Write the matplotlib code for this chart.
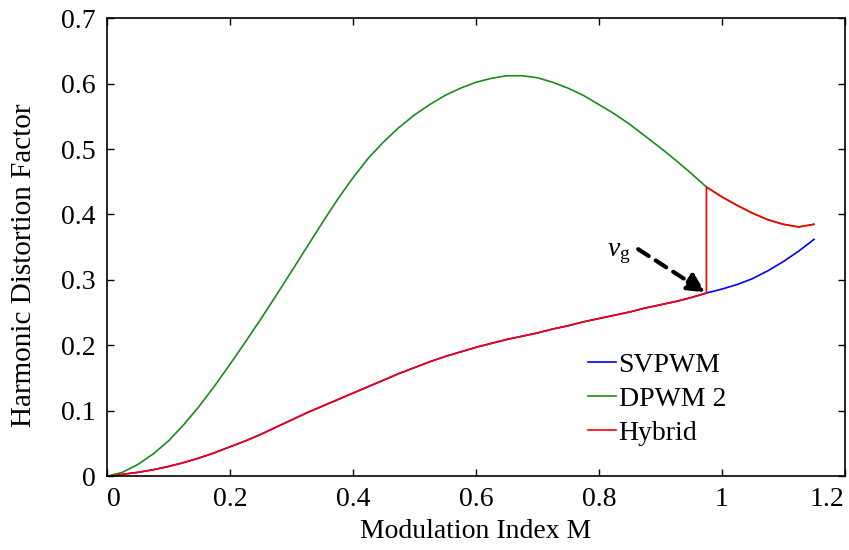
import matplotlib
matplotlib.use("Agg")
import matplotlib.pyplot as plt

plt.rcParams['font.family'] = ['Liberation Serif', 'DejaVu Serif']
plt.rcParams['mathtext.fontset'] = 'custom'
plt.rcParams['mathtext.rm'] = 'Liberation Serif'
plt.rcParams['mathtext.it'] = 'Liberation Serif:italic'

# modulation index grid
m = [0, 0.025, 0.05, 0.075, 0.1, 0.125, 0.15, 0.175, 0.2, 0.225, 0.25, 0.275,
     0.3, 0.325, 0.35, 0.375, 0.4, 0.425, 0.45, 0.475, 0.5, 0.525, 0.55,
     0.575, 0.6, 0.625, 0.65, 0.675, 0.7, 0.725, 0.75, 0.775, 0.8, 0.825,
     0.85, 0.875, 0.9, 0.925, 0.95, 0.975, 1.0, 1.025, 1.05, 1.075, 1.1,
     1.125, 1.15]
svpwm = [0, 0.003, 0.006, 0.010, 0.015, 0.021, 0.028, 0.036, 0.045, 0.054,
         0.064, 0.075, 0.086, 0.097, 0.107, 0.117, 0.127, 0.137, 0.147,
         0.157, 0.166, 0.175, 0.183, 0.190, 0.197, 0.203, 0.209, 0.214,
         0.219, 0.225, 0.230, 0.236, 0.241, 0.246, 0.251, 0.257, 0.262,
         0.267, 0.273, 0.280, 0.286, 0.293, 0.302, 0.314, 0.328, 0.344, 0.362]
dpwm2 = [0, 0.006, 0.018, 0.034, 0.054, 0.079, 0.107, 0.138, 0.171, 0.205,
         0.240, 0.276, 0.313, 0.350, 0.387, 0.423, 0.456, 0.486, 0.511,
         0.533, 0.552, 0.568, 0.582, 0.593, 0.602, 0.608, 0.612, 0.612,
         0.609, 0.602, 0.593, 0.582, 0.568, 0.554, 0.538, 0.520, 0.502,
         0.483, 0.463, 0.442, 0.427, 0.414, 0.402, 0.392, 0.385, 0.381, 0.385]

# hybrid: svpwm below switch point, dpwm2 above
m_switch = 0.975
hyb_m = [x for x in m if x <= m_switch] + [x for x in m if x >= m_switch]
hyb_v = [v for x, v in zip(m, svpwm) if x <= m_switch] + \
        [v for x, v in zip(m, dpwm2) if x >= m_switch]

fig = plt.figure(figsize=(8.49, 5.5), dpi=100)
ax = fig.add_axes([0.126, 0.134, 0.869, 0.833])

ax.plot(m, svpwm, color='#0000ff', lw=1.2, label='SVPWM')
ax.plot(m, dpwm2, color='#1a8c1a', lw=1.2, label='DPWM 2')
ax.plot(hyb_m, hyb_v, color='#ff0000', lw=1.2, label='Hybrid')

ax.annotate('', xy=(0.973, 0.281), xytext=(0.864, 0.347),
            arrowprops=dict(arrowstyle='-|>', linestyle=(0, (3, 2)), lw=3,
                            color='k', mutation_scale=28, shrinkA=0, shrinkB=0))
ax.text(0.813, 0.337, r'$v_{\mathrm{g}}$', fontsize=20)

ax.set_xlim(0, 1.2)
ax.set_ylim(0, 0.7)
ax.set_xticks([0, 0.2, 0.4, 0.6, 0.8, 1.0, 1.2])
ax.set_xticklabels(['0', '0.2', '0.4', '0.6', '0.8', '1', '1.2'])
ax.set_yticks([0, 0.1, 0.2, 0.3, 0.4, 0.5, 0.6, 0.7])
ax.set_yticklabels(['0', '0.1', '0.2', '0.3', '0.4', '0.5', '0.6', '0.7'])
ax.tick_params(direction='in', top=True, right=True, length=5, width=1,
               labelsize=20, pad=8)
xl = ax.get_xticklabels()
xl[0].set_horizontalalignment('left')
xl[-1].set_horizontalalignment('right')
for s in ax.spines.values():
    s.set_linewidth(1.2)

ax.set_xlabel('Modulation Index M', fontsize=20, labelpad=5)
ax.set_ylabel('Harmonic Distortion Factor', fontsize=21, labelpad=14)
ax.yaxis.set_label_coords(-0.095, 0.46)

ax.legend(loc='upper left', bbox_to_anchor=(0.652, 0.27), frameon=False,
          fontsize=20, handlelength=1.0, handletextpad=0.1, labelspacing=0.3,
          borderpad=0, borderaxespad=0)

fig.savefig('out.png', dpi=100)
